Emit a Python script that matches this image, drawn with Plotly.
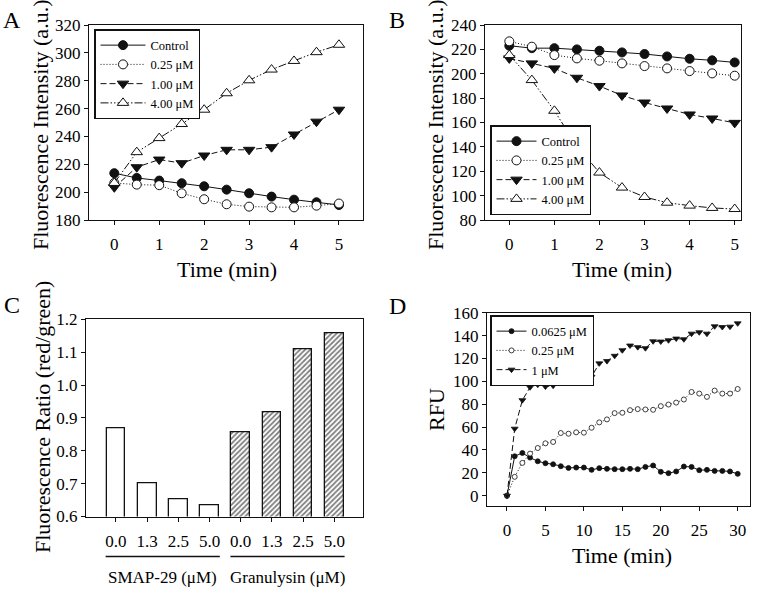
import plotly.graph_objects as go

# ---------------- data ----------------
time_ab = [0, 0.5, 1, 1.5, 2, 2.5, 3, 3.5, 4, 4.5, 5]
series_names = ["Control", "0.25 μM", "1.00 μM", "4.00 μM"]

a_control = [213.6, 210.2, 208.3, 206.4, 204.2, 201.8, 199.2, 196.8, 194.6, 192.7, 190.8]
a_025 = [206.6, 205.4, 205.0, 199.2, 194.9, 191.3, 189.6, 189.1, 189.1, 190.3, 191.8]
a_100 = [203.5, 217.9, 223.4, 220.8, 226.3, 230.4, 230.4, 232.3, 241.4, 250.6, 259.2]
a_400 = [206.6, 228.7, 238.8, 248.9, 259.2, 271.0, 280.3, 288.0, 294.2, 300.5, 305.8]

b_control = [223.0, 221.0, 221.0, 220.0, 218.9, 217.5, 216.2, 214.2, 212.3, 211.0, 209.3]
b_025 = [226.6, 222.2, 215.3, 212.6, 210.7, 208.5, 206.3, 204.4, 202.2, 200.3, 198.4]
b_100 = [212.6, 208.5, 204.4, 196.7, 189.9, 182.2, 176.4, 171.5, 166.6, 163.3, 159.7]
b_400 = [215.3, 194.8, 169.6, 140.5, 118.9, 106.6, 98.9, 94.2, 91.8, 89.9, 89.0]

c_dose_labels = ["0.0", "1.3", "2.5", "5.0"]
c_groups = ["SMAP-29 (μM)", "Granulysin (μM)"]
c_smap = [0.868, 0.700, 0.653, 0.635]
c_gran = [0.856, 0.918, 1.109, 1.158]

time_d = list(range(0, 31))
d_names = ["0.0625 μM", "0.25 μM", "1 μM"]
d_00625 = [0, 34.5, 37.4, 33.3, 30.1, 28.4, 27.5, 25.8, 24.3, 24.6, 24.6, 22.6, 24.1, 23.5,
           23.2, 23.2, 23.5, 23.2, 25.2, 26.4, 20.9, 19.7, 21.2, 25.5, 25.2, 22.3, 22.6,
           21.7, 21.7, 21.2, 19.1]
d_025 = [0, 16.5, 28.7, 36.8, 41.7, 45.8, 47.0, 54.8, 54.2, 55.4, 55.1, 59.4, 64.1, 66.7,
         72.2, 72.5, 74.8, 75.7, 75.4, 75.1, 78.3, 79.7, 81.4, 84.1, 90.7, 89.3, 86.4,
         91.9, 89.3, 89.3, 93.3]
d_1 = [0, 58.6, 83.5, 94.8, 97.1, 95.4, 96.2, 100.3, 100.9, 100.9, 102.3, 104.0, 115.7,
       117.7, 122.3, 127.2, 131.3, 129.9, 129.0, 135.0, 134.8, 135.9, 137.4, 136.8, 141.7,
       142.9, 141.7, 148.1, 147.5, 147.8, 150.7]

# ---------------- styling ----------------
W, H = 760, 589
FONT = "Liberation Serif, Times New Roman, serif"
LINE = "#111111"

def px(x):
    return x / W

def py(y):
    return 1 - y / H

styles = [
    dict(dash="solid", symbol="circle", fill=LINE),
    dict(dash="1px,2px", symbol="circle", fill="white"),
    dict(dash="6px,3px", symbol="triangle-down", fill=LINE),
    dict(dash="8px,2px,1.5px,2px,1.5px,2px", symbol="triangle-up", fill="white"),
]

fig = go.Figure()

def add_lines(xs, ys_list, names, xa, ya, legend, sizes):
    for ys, name, st, sz in zip(ys_list, names, styles, sizes):
        fig.add_trace(go.Scatter(
            x=xs, y=ys, name=name, mode="lines+markers",
            xaxis=xa, yaxis=ya, legend=legend,
            line=dict(color=LINE, width=1, dash=st["dash"]),
            marker=dict(symbol=st["symbol"], size=sz, color=st["fill"],
                        line=dict(color=LINE, width=1)),
        ))

add_lines(time_ab, [a_control, a_025, a_100, a_400], series_names, "x", "y", "legend",
          [9, 9, 10, 10])
add_lines(time_ab, [b_control, b_025, b_100, b_400], series_names, "x2", "y2", "legend2",
          [9, 9, 10, 10])

# Panel C bars
n = len(c_dose_labels)
pos_smap = list(range(n))
pos_gran = [n + i for i in range(n)]
fig.add_trace(go.Bar(
    x=pos_smap, y=c_smap, width=0.6, xaxis="x3", yaxis="y3",
    showlegend=False, name=c_groups[0],
    marker=dict(color="white", line=dict(color=LINE, width=1.3)),
))
fig.add_trace(go.Bar(
    x=pos_gran, y=c_gran, width=0.6, xaxis="x3", yaxis="y3",
    showlegend=False, name=c_groups[1],
    marker=dict(color="white", line=dict(color=LINE, width=1.3),
                pattern=dict(shape="/", size=3.6, solidity=0.5,
                             fgcolor="black", bgcolor="white")),
))

# Panel D
d_styles = [styles[0], styles[1], styles[2]]
for ys, name, st, sz in zip([d_00625, d_025, d_1], d_names, d_styles, [5, 5, 6]):
    fig.add_trace(go.Scatter(
        x=time_d, y=ys, name=name, mode="lines+markers",
        xaxis="x4", yaxis="y4", legend="legend3",
        line=dict(color=LINE, width=1, dash=st["dash"]),
        marker=dict(symbol=st["symbol"], size=sz, color=st["fill"],
                    line=dict(color=LINE, width=0.8)),
    ))

axis_common = dict(
    showline=True, linecolor=LINE, linewidth=1, mirror=True,
    ticks="outside", ticklen=4, tickwidth=1, tickcolor=LINE,
    showgrid=False, zeroline=False, automargin=False,
    tickfont=dict(family=FONT, size=17, color="black"),
)

legend_common = dict(
    bgcolor="white", bordercolor=LINE, borderwidth=1.5,
    font=dict(family=FONT, size=12.5, color="black"),
    xanchor="left", tracegroupgap=0,
)

fig.update_layout(
    width=W, height=H,
    margin=dict(l=0, r=0, t=0, b=0, pad=0, autoexpand=False),
    paper_bgcolor="white", plot_bgcolor="white",
    font=dict(family=FONT, color="black"),
    bargap=0,
    xaxis=dict(domain=[px(89), px(363)], range=[-0.563, 5.535], anchor="y",
               tickvals=[0, 1, 2, 3, 4, 5], ticklabelstandoff=5, **axis_common),
    yaxis=dict(domain=[py(220), py(25)], range=[180, 320], dtick=20, anchor="x",
               **axis_common),
    xaxis2=dict(domain=[px(485), px(741)], range=[-0.539, 5.14], anchor="y2",
                tickvals=[0, 1, 2, 3, 4, 5], ticklabelstandoff=5, **axis_common),
    yaxis2=dict(domain=[py(220), py(25)], range=[80, 240], dtick=20, anchor="x2",
                **axis_common),
    xaxis3=dict(domain=[px(86), px(363)], range=[-0.96, 7.92], anchor="y3",
                tickvals=pos_smap + pos_gran, ticktext=c_dose_labels + c_dose_labels,
                ticklabelstandoff=5, **axis_common),
    yaxis3=dict(domain=[py(516.5), py(319.3)], range=[0.6, 1.2], dtick=0.1,
                tickformat=".1f", anchor="x3", **axis_common),
    xaxis4=dict(domain=[px(487), px(750)], range=[-2.6, 31.6], anchor="y4",
                tickvals=[0, 5, 10, 15, 20, 25, 30], ticklabelstandoff=5, **axis_common),
    yaxis4=dict(domain=[py(506), py(312.7)], range=[-9, 160], dtick=20, anchor="x4",
                **axis_common),
    legend=dict(x=px(94), y=py(29), yanchor="top", itemwidth=45, **legend_common),
    legend2=dict(x=px(490), y=py(215), yanchor="bottom", itemwidth=40, **legend_common),
    legend3=dict(x=px(490), y=py(315), yanchor="top", itemwidth=30, **legend_common),
)

ann = []
title_font = dict(family=FONT, size=22, color="black")
# axis titles
ann.append(dict(text="Fluorescence Intensity (a.u.)", x=px(40), y=py(125), xref="paper",
                yref="paper", textangle=-90, showarrow=False, font=title_font,
                xanchor="center", yanchor="middle"))
ann.append(dict(text="Fluorescence Intensity (a.u.)", x=px(435), y=py(125), xref="paper",
                yref="paper", textangle=-90, showarrow=False, font=title_font,
                xanchor="center", yanchor="middle"))
ann.append(dict(text="Fluorescence Ratio (red/green)", x=px(42), y=py(417), xref="paper",
                yref="paper", textangle=-90, showarrow=False, font=title_font,
                xanchor="center", yanchor="middle"))
ann.append(dict(text="RFU", x=px(436), y=py(410), xref="paper", yref="paper",
                textangle=-90, showarrow=False, font=title_font,
                xanchor="center", yanchor="middle"))
ann.append(dict(text="Time (min)", x=2.5, y=py(269), xref="x", yref="paper",
                showarrow=False, font=title_font, xanchor="center", yanchor="middle"))
ann.append(dict(text="Time (min)", x=2.5, y=py(269), xref="x2", yref="paper",
                showarrow=False, font=title_font, xanchor="center", yanchor="middle"))
ann.append(dict(text="Time (min)", x=15, y=py(555), xref="x4", yref="paper",
                showarrow=False, font=title_font, xanchor="center", yanchor="middle"))
# panel letters
letter_font = dict(family=FONT, size=24, color="black")
for t, lx, ly in [("A", 12, 20), ("B", 397, 20), ("C", 12, 305), ("D", 397, 306)]:
    ann.append(dict(text=t, x=px(lx), y=py(ly), xref="paper", yref="paper",
                    showarrow=False, font=letter_font, xanchor="center", yanchor="middle"))
# group labels for panel C
shapes = []
for grp, positions in zip(c_groups, [pos_smap, pos_gran]):
    center = sum(positions) / len(positions)
    ann.append(dict(text=grp, x=center, y=py(577), xref="x3", yref="paper",
                    showarrow=False, font=dict(family=FONT, size=17, color="black"),
                    xanchor="center", yanchor="middle"))
    shapes.append(dict(type="line", xref="x3", yref="paper",
                       x0=positions[0] - 0.33, x1=positions[-1] + 0.33,
                       y0=py(556.5), y1=py(556.5),
                       line=dict(color=LINE, width=1.3)))

fig.update_layout(annotations=ann, shapes=shapes)

fig.write_html(
    "out.html",
    config={"displayModeBar": False},
    post_script="document.body.style.margin='0';document.body.style.overflow='hidden';",
)
